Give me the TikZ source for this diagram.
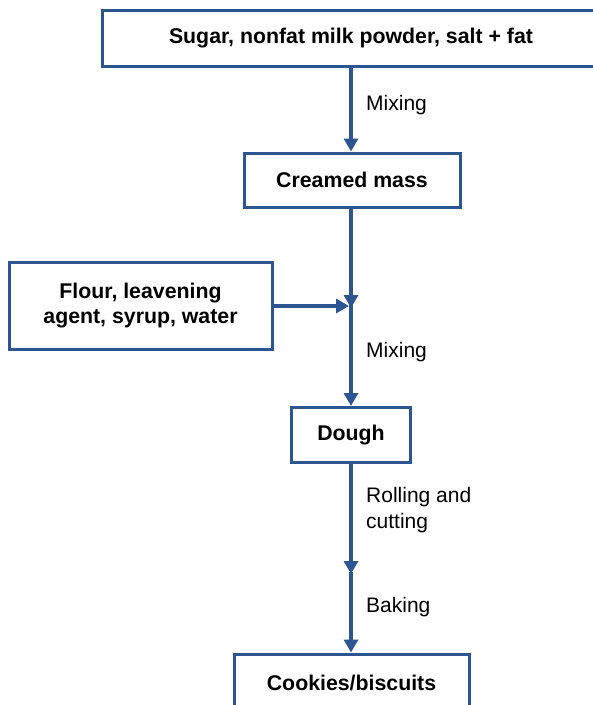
\documentclass[tikz,border=0pt]{standalone}
\usepackage{fontspec}
\setmainfont{Liberation Sans}
\usepackage{xcolor}
\usetikzlibrary{arrows.meta}
\definecolor{flowblue}{HTML}{2D5592}

\begin{document}
\begin{tikzpicture}[x=1pt, y=-1pt,
          box/.style={rectangle, draw=flowblue, line width=3pt, fill=white,
                      font=\fontsize{21.3}{25.5}\selectfont\bfseries, align=center,
                      inner sep=0pt},
          lbl/.style={anchor=west, font=\fontsize{21}{25.5}\selectfont, align=left,
                      inner sep=0pt},
          arr/.style={-{Triangle[width=14pt,length=13pt]}, line width=3.5pt, flowblue}
        ]
        \clip (0,0) rectangle (593,705);
        \node[box, minimum width=498pt, minimum height=56pt] (ingr)    at (351,38)    {Sugar, nonfat milk powder, salt + fat};
        \node[box, minimum width=216pt, minimum height=54pt] (cream)   at (352,180)   {Creamed mass};
        \node[box, minimum width=263pt, minimum height=87pt] (flour)   at (140.5,305.5) {Flour, leavening\\agent, syrup, water};
        \node[box, minimum width=119pt, minimum height=55pt] (dough)   at (351,435)   {Dough};
        \node[box, minimum width=235pt, minimum height=58pt] (cookies) at (351.5,683) {Cookies/biscuits};

        \coordinate (join) at (351,306);
        \coordinate (roll) at (351,574);

        \draw[arr] (ingr.south -| join) -- (cream.north -| join);
        \draw[arr] (cream.south -| join) -- ([yshift=-2pt]join);
        \draw[arr] (flour.east |- join) -- ([xshift=-2pt]join);
        \draw[arr] ([yshift=4pt]join) -- (dough.north -| join);
        \draw[arr] (dough.south -| join) -- (roll);
        \draw[arr] ([yshift=2pt]roll) -- (cookies.north -| join);

        \node[lbl] at (366,105) {Mixing};
        \node[lbl] at (366,352) {Mixing};
        \node[lbl] at (366,510) {Rolling and\\cutting};
        \node[lbl] at (366,607) {Baking};
      \end{tikzpicture}
\end{document}
